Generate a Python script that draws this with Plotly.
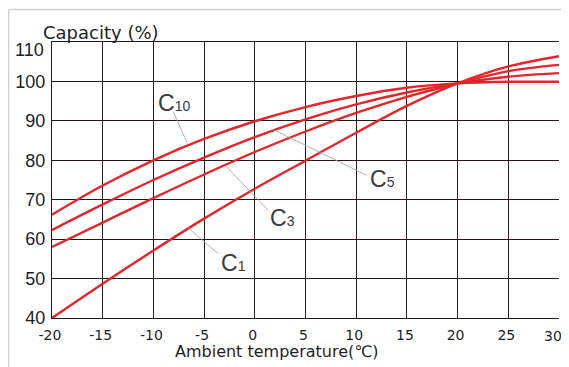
import plotly.graph_objects as go

temps = [-20, -15, -10, -5, 0, 5, 10, 15, 20, 25, 30]
c10 = [66.2, 73.6, 80.0, 85.4, 89.9, 93.5, 96.3, 98.4, 99.5, 99.9, 99.9]
c5 = [62.3, 68.8, 75.0, 80.7, 85.9, 90.4, 94.2, 97.2, 99.5, 101.2, 102.1]
c3 = [58.0, 64.2, 70.4, 76.4, 82.1, 87.3, 92.0, 96.1, 99.5, 102.6, 104.2]
c1 = [40.0, 48.7, 57.1, 65.2, 72.8, 79.9, 87.0, 93.8, 99.5, 103.8, 106.4]
series = [("C10", c10), ("C5", c5), ("C3", c3), ("C1", c1)]

x_ticks = [-20, -15, -10, -5, 0, 5, 10, 15, 20, 25, 30]
y_ticks = [40, 50, 60, 70, 80, 90, 100, 110]

# label positions (data coords) and leader lines
labels = [
    ("C", "10", -9.76, 94.45),
    ("C", "5", 11.13, 75.2),
    ("C", "3", 1.28, 65.4),
    ("C", "1", -3.49, 54.0),
]
leaders = [
    (-8.03, 92.25, -6.70, 84.6),
    (1.83, 87.8, 11.03, 76.2),
    (-2.92, 78.7, 1.34, 67.3),
    (-6.70, 63.1, -3.59, 56.3),
]

RED = "#e2262b"
GRID = "#231815"
TXT = "#1e1e1e"

fig = go.Figure()
for name, vals in series:
    fig.add_trace(go.Scatter(x=temps, y=vals, mode="lines", name=name,
                             line=dict(color=RED, width=2.4, shape="spline", smoothing=1.0),
                             showlegend=False, hoverinfo="skip"))

shapes = []
for x0, y0, x1, y1 in leaders:
    shapes.append(dict(type="line", xref="x", yref="y", x0=x0, y0=y0, x1=x1, y1=y1,
                       line=dict(color="#a0a0a0", width=0.8), layer="above"))
# outer light frame (left & top)
shapes.append(dict(type="line", xref="paper", yref="paper", x0=-0.0858, x1=-0.0858, y0=-0.3, y1=1.118,
                   line=dict(color="#cfcfcf", width=1.5)))
shapes.append(dict(type="line", xref="paper", yref="paper", x0=-0.0858, x1=1.1, y0=1.118, y1=1.118,
                   line=dict(color="#cfcfcf", width=1.5)))

annotations = []
for main, sub, x, y in labels:
    annotations.append(dict(x=x, y=y, xref="x", yref="y", xanchor="left", yanchor="middle",
                            showarrow=False,
                            text=f"{main}<span style='font-size:14px'>{sub}</span>",
                            font=dict(family="Liberation Sans", size=23, color="#3a3a3a")))
annotations.append(dict(x=-0.0223, y=1.036, xref="paper", yref="paper", xanchor="left",
                        yanchor="middle", showarrow=False, text="Capacity (%)",
                        font=dict(family="DejaVu Sans", size=18, color=TXT)))
annotations.append(dict(x=0.444, y=-0.1196, xref="paper", yref="paper", xanchor="center",
                        yanchor="middle", showarrow=False, text="Ambient temperature(℃)",
                        font=dict(family="DejaVu Sans", size=16, color=TXT)))
# top y label (sits a little below its grid line) and last x label (kept inside the page)
annotations.append(dict(x=-0.011, y=y_ticks[-1], xref="paper", yref="y", showarrow=False,
                        text=str(y_ticks[-1]), xanchor="right", yanchor="middle", yshift=-8,
                        font=dict(family="Liberation Sans", size=18, color=TXT)))
annotations.append(dict(x=x_ticks[-1], y=0, xref="x", yref="paper", showarrow=False,
                        text=str(x_ticks[-1]), xanchor="right", yanchor="top", xshift=5, yshift=-8,
                        font=dict(family="DejaVu Sans", size=14, color=TXT)))

x_text = [str(v) for v in x_ticks[:-1]] + [""]
y_text = [str(v) for v in y_ticks[:-1]] + [""]

# page body has an 8px margin, so the figure is drawn from (8, 8)
fig.update_layout(
    width=561, height=359,
    margin=dict(l=44, r=10, t=34, b=49),
    paper_bgcolor="white", plot_bgcolor="white",
    shapes=shapes, annotations=annotations,
    xaxis=dict(range=[-20, 30], tickvals=x_ticks, ticktext=x_text,
               automargin=False,
               showgrid=True, gridcolor=GRID, gridwidth=1.2,
               showline=True, linecolor=GRID, linewidth=1.4, mirror=True,
               zeroline=False, ticks="", ticklabelstandoff=4, ticklabelshift=-2,
               tickfont=dict(family="DejaVu Sans", size=14, color=TXT)),
    yaxis=dict(range=[40, 110], tickvals=y_ticks, ticktext=y_text, automargin=False,
               showgrid=True, gridcolor=GRID, gridwidth=1.2,
               showline=True, linecolor=GRID, linewidth=1.4,
               zeroline=False, ticks="", ticklabelstandoff=2,
               tickfont=dict(family="Liberation Sans", size=18, color=TXT)),
)
fig.write_html("out.html")
